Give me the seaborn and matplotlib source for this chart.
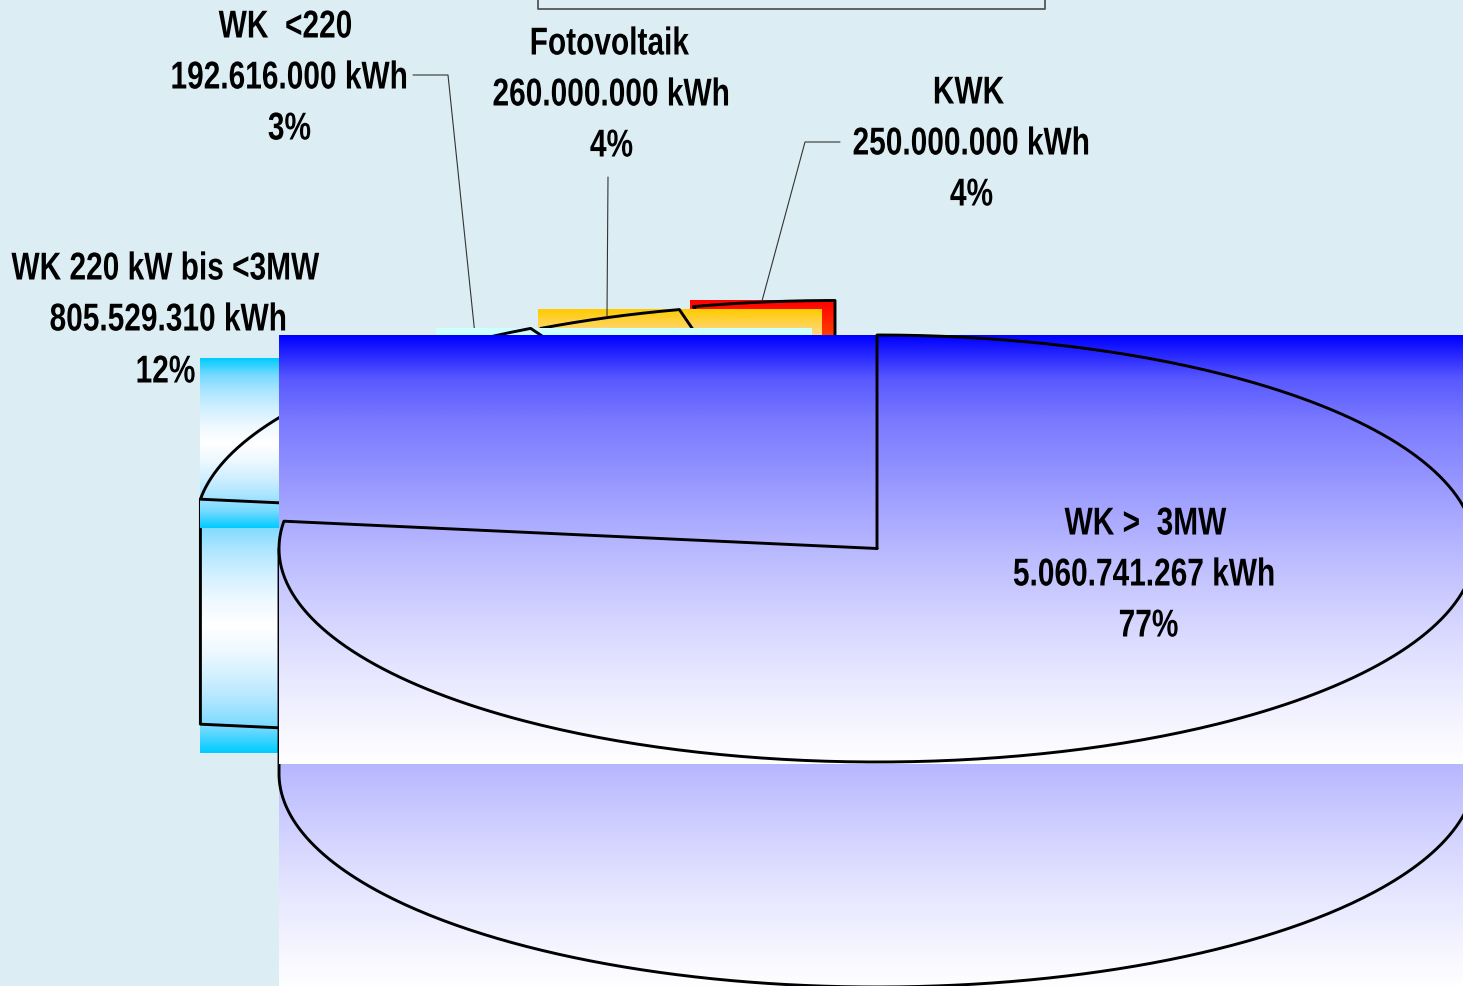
import numpy as np
import matplotlib
matplotlib.use("Agg")
import matplotlib.pyplot as plt
import matplotlib.patheffects as path_effects
from matplotlib.transforms import Affine2D
import seaborn as sns

# Electricity generation by source (kWh)
sources = ["WK > 3MW", "WK 220 kW bis <3MW", "WK <220", "Fotovoltaik", "KWK"]
energy_kwh = [5060741267, 805529310, 192616000, 260000000, 250000000]
label_titles = ["WK >  3MW", "WK 220 kW bis <3MW", "WK  <220", "Fotovoltaik", "KWK"]

# Pie geometry in pixels: slice tips after explosion, ellipse radii, wall height
tip_x = [877, 793.5, 811, 821, 835]
tip_y = [548.5, 526.5, 517, 517, 514]
RX, RY, DEPTH = 598, 213.5, 225
BOX_PAD = 2

# Text anchors per slice: three rows (title, energy, share)
title_pos = [(1145, 522), (165, 267), (285, 25), (609, 42), (968, 91)]
value_pos = [(1144, 573), (168, 318), (289, 76), (611, 93), (971, 142)]
share_pos = [(1148, 624), (165, 370), (289, 127), (611, 144), (971, 193)]

BACKGROUND = "#DCEEF4"
sns.set_theme(style="white")
plt.rcParams["font.family"] = ["Liberation Sans", "DejaVu Sans"]

# Colour stops are evenly spaced along each slice's bounding box
blue_cmap = sns.blend_palette(["#0000FF", "#5858FF", "#7A7AFF", "#8E8EFF", "#A4A4FF", "#B8B8FF",
                               "#CACAFF", "#DADAFF", "#E8E8FF", "#F4F4FF", "#FFFFFF"],
                              n_colors=256, as_cmap=True)
cyan_cmap = sns.blend_palette(["#00CCFF", "#78DAFF", "#AEE6FF", "#D2F0FF", "#EEF9FF", "#FFFFFF",
                               "#EEF9FF", "#D2F0FF", "#AEE6FF", "#78DAFF", "#00CCFF"],
                              n_colors=256, as_cmap=True)
pale_cmap = sns.blend_palette(["#CCFFFF", "#E6FFFF", "#FFFFFF"], n_colors=64, as_cmap=True)
amber_cmap = sns.blend_palette(["#FFCC00", "#FFD672", "#FFDE98", "#FFE4AC", "#FFE9BC", "#FFEECC",
                                "#FFF2D8", "#FFF6E4", "#FFFAF0", "#FFFCF8", "#FFFFFF"],
                               n_colors=256, as_cmap=True)
red_cmap = sns.blend_palette(["#FF0000", "#FF4C00", "#FF7000", "#FF9000", "#FFA800", "#FFCC00"],
                             n_colors=256, as_cmap=True)
face_cmaps = [blue_cmap, cyan_cmap, pale_cmap, amber_cmap, red_cmap]

fig = plt.figure(figsize=(14.63, 9.86), dpi=100, facecolor=BACKGROUND)
ax = fig.add_axes([0, 0, 1, 1])
ax.set_facecolor(BACKGROUND)


class TallGlyphs(path_effects.AbstractPathEffect):
    """Stretch glyphs upward from the baseline for a condensed look."""

    def __init__(self, factor):
        super().__init__()
        self.factor = factor

    def draw_path(self, renderer, gc, tpath, affine, rgbFace=None):
        renderer.draw_path(gc, tpath, Affine2D().scale(1, self.factor) + affine, rgbFace)


def gradient(cmap, left, right, top, bottom, z):
    ax.imshow(np.linspace(0, 1, 256).reshape(-1, 1), cmap=cmap, aspect="auto",
              extent=(left, right, bottom, top), interpolation="bilinear", zorder=z)


def ellipse_xy(cx, cy, degrees):
    rad = np.radians(degrees)
    return cx + RX * np.cos(rad), cy - RY * np.sin(rad)


def outline(xs, ys, z, lw=2.1):
    ax.plot(xs, ys, color="black", lw=lw, solid_joinstyle="round", zorder=z)


# Angles run clockwise from twelve o'clock
total = sum(energy_kwh)
edges = 90 - 360 * np.cumsum([0] + energy_kwh) / total

# Slices are painted back to front, the largest one last
for i in reversed(range(len(energy_kwh))):
    cx, cy = tip_x[i], tip_y[i]
    z = 10 + 4 * (len(energy_kwh) - i)
    arc = np.linspace(edges[i], edges[i + 1], 400)
    ax_, ay_ = ellipse_xy(cx, cy, arc)
    xs = np.r_[cx, ax_, cx]
    ys = np.r_[cy, ay_, cy]

    if i == 0:
        # Cylinder wall below the front rim
        wall = np.linspace(180, 360, 300)
        wx, wy = ellipse_xy(cx, cy + DEPTH, wall)
        gradient(blue_cmap, cx - RX, cx + RX, cy, cy + RY + DEPTH + BOX_PAD, z)
        outline(np.r_[cx - RX, wx, cx + RX], np.r_[cy, wy, cy], z + 1)
    elif i == 1:
        # Flat cut face of the exploded slice
        gradient(cyan_cmap, ax_.min(), cx, ay_[0], cy + DEPTH + BOX_PAD, z)
        outline([ax_[0], ax_[0], cx, cx], [ay_[0], ay_[0] + DEPTH, cy + DEPTH, cy], z + 1)

    # Slices right of the big one paint slightly past their rim on the left
    left_pad = BOX_PAD + 1 if i >= 2 else 0
    gradient(face_cmaps[i], xs.min() - left_pad, xs.max(), ys.min(), ys.max() + BOX_PAD, z + 2)
    outline(xs, ys, z + 3)

# Leader lines from labels to their slices
leader_color = "#333333"
ax.plot([413, 448, 475], [75, 75, 335], color=leader_color, lw=0.8, zorder=5)
ax.plot([608, 607], [177, 316], color=leader_color, lw=0.8, zorder=40)
ax.plot([840, 805, 762], [142, 142, 301], color=leader_color, lw=0.8, zorder=5)

# Lower edge of the heading frame
ax.plot([538, 538, 1045, 1045], [-2, 9, 9, -2], color="#555555", lw=1.3, zorder=5)

# Three-row labels built from the values
tall = [TallGlyphs(1.3)]
for i, kwh in enumerate(energy_kwh):
    rows = [label_titles[i],
            f"{kwh:,}".replace(",", ".") + " kWh",
            f"{100 * kwh / total:.0f}%"]
    for text, (x, y) in zip(rows, (title_pos[i], value_pos[i], share_pos[i])):
        ax.text(x + 0.5, y + 12.5, text, ha="center", va="baseline", fontsize=21.5,
                fontweight="bold", color="black", zorder=50, path_effects=tall)

ax.set_xlim(0, 1463)
ax.set_ylim(986, 0)
ax.axis("off")
fig.savefig("out.png", dpi=100, facecolor=BACKGROUND)
